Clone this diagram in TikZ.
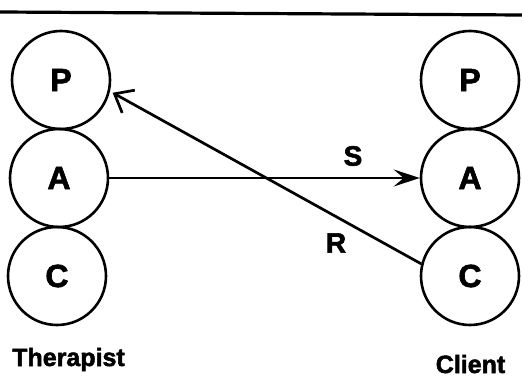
\documentclass[tikz,border=0pt]{standalone}
\usepackage{fontspec}
\setmainfont{Liberation Sans}[BoldFeatures={FakeBold=2}]
\usetikzlibrary{arrows.meta}

\tikzset{
  ego/.style={circle, draw, line width=2.6pt, minimum size=98pt, inner sep=0pt,
              font=\fontsize{32}{32}\selectfont\bfseries},
  tx/.style={line width=2.7pt},
  tlabel/.style={font=\fontsize{28}{28}\selectfont\bfseries},
  role/.style={anchor=base, inner sep=0pt, font=\fontsize{25}{25}\selectfont\bfseries}
}

\begin{document}
\begin{tikzpicture}[x=1pt, y=-1pt]
  \useasboundingbox (0,0) rectangle (522,377);

  % rule across the top
  \draw[line width=3.2pt] (0,12) -- (522,15);

  % therapist ego states
  \node[ego] (tP) at (61,80)  {P};
  \node[ego] (tA) at (59,178) {A};
  \node[ego] (tC) at (57,276) {C};

  % client ego states
  \node[ego] (cP) at (470,80)  {P};
  \node[ego] (cA) at (470,178) {A};
  \node[ego] (cC) at (470,276) {C};

  % stimulus: therapist Adult to client Adult
  \draw[tx, -{Stealth[length=26pt, width=17pt, inset=10pt]}] (tA.east) -- (cA.west);
  \node[tlabel] (s) at (353,156) {S};

  % response: client Child to therapist Parent
  \draw[tx, shorten >=3pt, -{Straight Barb[length=16pt, width=26pt, line width=2.7pt]}]
    (cC.166) -- (tP.-13);
  \node[tlabel] (r) at (336,243) {R};

  % role captions
  \node[role] (therapist) at (68.5,366) {Therapist};
  \node[role] (client) at (470.5,373) {Client};
\end{tikzpicture}
\end{document}
